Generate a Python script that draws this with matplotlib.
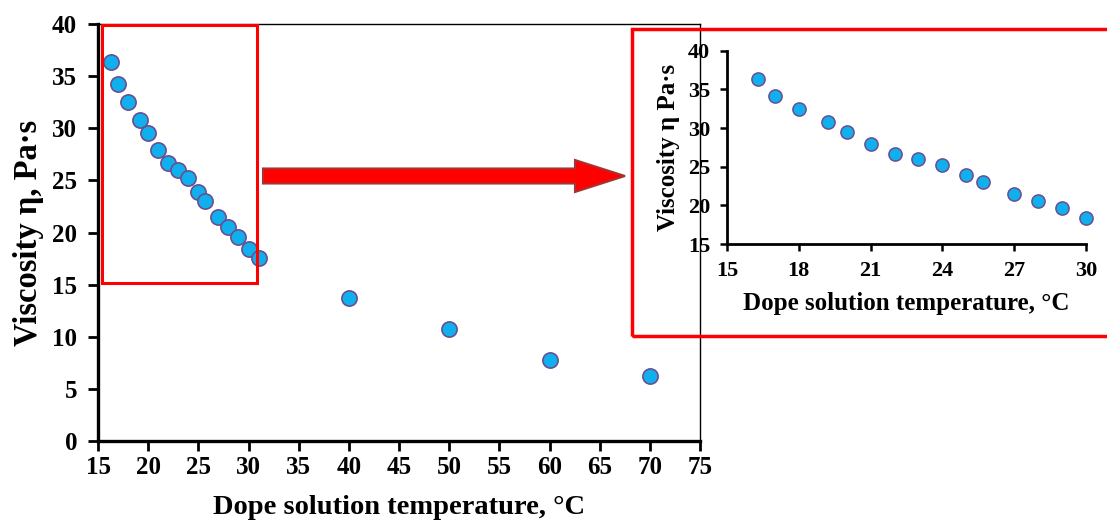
import matplotlib
matplotlib.use('Agg')
from matplotlib import pyplot as plt
from matplotlib.patches import Rectangle, FancyArrow
from matplotlib.transforms import Affine2D

# donnees
temp_all = [16.3, 17.0, 18.0, 19.2, 20.0, 21.0, 22.0, 23.0, 24.0, 25.0, 25.7,
            27.0, 28.0, 29.0, 30.0, 31.0, 40.0, 50.0, 60.0, 70.0]
visc_all = [36.4, 34.2, 32.5, 30.8, 29.5, 27.9, 26.7, 26.0, 25.2, 23.9, 23.0,
            21.5, 20.5, 19.6, 18.4, 17.6, 13.7, 10.7, 7.8, 6.2]
temp_zoom = temp_all[:15]
visc_zoom = visc_all[:15]

xticks_main = list(range(15, 80, 5))
yticks_main = list(range(0, 45, 5))
xticks_zoom = [15, 18, 21, 24, 27, 30]
yticks_zoom = [15, 20, 25, 30, 35, 40]

face = '#10b0ee'
edge = '#6a4f8f'
font = 'Liberation Serif'

W, H = 1107, 523
fig = plt.figure(figsize=(W/100, H/100), dpi=100)
px = Affine2D().scale(1/W, 1/H) + fig.transFigure  # pixels de la figure

# graphe principal
ax = fig.add_axes([98/W, 82/H, 602/W, 417/H])
ax.scatter(temp_all, visc_all, s=120, color=face, edgecolor=edge, linewidth=1.2, zorder=3, clip_on=False)
ax.set_xlim(15, 75)
ax.set_ylim(0, 40)
ax.set_xticks(xticks_main)
ax.set_yticks(yticks_main)
for s in ['left', 'bottom']:
    ax.spines[s].set_linewidth(2.4)
for s in ['top', 'right']:
    ax.spines[s].set_linewidth(1.0)
ax.tick_params(direction='out', length=7, width=2, labelsize=18)
ax.tick_params(axis='y', pad=8)
ax.tick_params(axis='x', pad=4)
for lab in ax.get_xticklabels() + ax.get_yticklabels():
    lab.set_fontfamily(font)
    lab.set_fontweight('bold')
ax.set_xlabel('Dope solution temperature, °C', fontsize=20.5, fontweight='bold', family=font, labelpad=11)
ax.set_ylabel('Viscosity η, Pa·s', fontsize=23.5, fontweight='bold', family=font, labelpad=6)

# zone agrandie
ax.add_patch(Rectangle((15.4, 15.15), 15.45, 24.75, fill=False, edgecolor='red', linewidth=2.2, zorder=4, clip_on=False))

# fleche
fig.add_artist(FancyArrow(263, 347, 362, 0, width=15, head_width=32, head_length=50,
                          length_includes_head=True, facecolor='red', edgecolor='#a83232',
                          linewidth=1.5, transform=px))

# cadre rouge du zoom
fig.add_artist(Rectangle((632, 187), 520, 307, fill=False, edgecolor='red', linewidth=2.5, transform=px))

# graphe agrandi
axi = fig.add_axes([727/W, 279/H, 359/W, 193.3/H])
axi.scatter(temp_zoom, visc_zoom, s=90, color=face, edgecolor=edge, linewidth=1.1, zorder=3, clip_on=False)
axi.set_xlim(15, 30)
axi.set_ylim(15, 40)
axi.set_xticks(xticks_zoom)
axi.set_yticks(yticks_zoom)
axi.spines['top'].set_visible(False)
axi.spines['right'].set_visible(False)
for s in ['left', 'bottom']:
    axi.spines[s].set_linewidth(2.0)
axi.tick_params(direction='out', length=5, width=1.8, labelsize=16)
axi.tick_params(axis='y', pad=7)
axi.tick_params(axis='x', pad=7)
for lab in axi.get_xticklabels() + axi.get_yticklabels():
    lab.set_fontfamily(font)
    lab.set_fontweight('bold')
axi.set_xlabel('Dope solution temperature, °C', fontsize=18, fontweight='bold', family=font, labelpad=8)
axi.set_ylabel('Viscosity η Pa·s', fontsize=18, fontweight='bold', family=font, labelpad=6)

fig.savefig('out.png', dpi=100)
